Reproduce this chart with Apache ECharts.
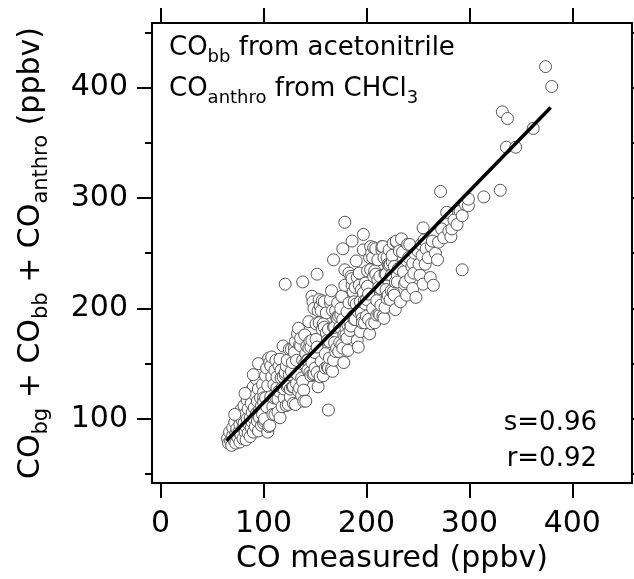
<!DOCTYPE html>
<html>
<head>
<meta charset="utf-8">
<script src="https://cdn.jsdelivr.net/npm/echarts@6/dist/echarts.min.js"></script>
<style>
html,body{margin:0;padding:0;background:#fff;}
#chart{width:634px;height:579px;}
</style>
</head>
<body>
<div id="chart"></div>
<script>
// ---- data ----
const xRange = [-8.4, 458];
const yRange = [41.8, 458.5];
const xTickValues = [0, 100, 200, 300, 400];
const yTickValues = [100, 200, 300, 400];
const yMinorTickValues = [50, 150, 250, 350, 450];
const fitLine = [[64, 80.2], [379, 382]];
const statLabels = ['s=0.96', 'r=0.92'];
// [CO measured, CObg + CObb + COanthro] (ppbv)
const scatterPoints = [
  [65,82],[66,78],[67,88],[68,80],[69,76],[70,85],[70,92],[71,81],[72,97],[73,87],[73,78],[74,91],
  [75,83],[75,102],[76,88],[77,95],[77,79],[78,108],[78,86],[79,99],[80,92],[80,82],[81,112],[81,96],
  [82,88],[82,104],[83,93],[83,81],[84,117],[84,100],[85,87],[85,109],[86,95],[86,124],[87,101],
  [87,84],[88,114],[88,92],[89,106],[89,97],[90,129],[90,88],[91,110],[91,100],[92,121],[92,93],
  [93,105],[93,136],[94,98],[94,116],[95,89],[95,127],[96,108],[96,101],[97,143],[97,119],[98,94],
  [98,112],[99,131],[99,104],[100,124],[100,96],[72,104],[82,123],[90,140],[95,150],
  [100,119],[100,115],[101,98],[101,100],[102,139],[102,119],[103,111],[103,146],[104,130],[104,88],
  [105,93],[105,155],[106,151],[106,94],[107,120],[107,148],[108,138],[108,156],[109,111],[109,104],
  [110,131],[110,119],[111,104],[111,144],[112,153],[112,119],[113,128],[113,138],[114,118],[114,106],
  [115,148],[115,125],[116,101],[116,154],[117,144],[117,137],[118,128],[118,111],[119,166],[119,138],
  [120,119],[120,127],[121,140],[121,142],[121,222],[122,112],[122,148],[123,153],[123,129],[124,130],
  [124,113],[125,163],[125,140],[126,120],[126,127],[127,143],[127,163],[128,151],[128,129],[129,129],
  [129,114],[130,164],[130,160],
  [131,113],[131,170],[132,153],[132,132],[133,140],[133,177],[134,182],[134,125],[135,128],[135,167],
  [136,166],[136,173],[137,137],[137,121],[138,153],[138,134],[138,224],[139,126],[139,116],[140,176],
  [140,150],[141,116],[141,159],[142,166],[142,153],[143,153],[143,144],[144,188],[144,164],[145,142],
  [145,170],[146,165],[146,139],[147,151],[147,171],[147,211],[148,206],[148,140],[149,141],[149,200],
  [150,160],[150,146],[151,172],[151,186],[152,165],[152,142],[152,231],[153,129],[153,198],[154,208],
  [154,187],[155,138],[155,202],[156,198],[156,152],[157,181],[157,207],[158,139],[158,186],[159,206],
  [159,183],[160,159],[160,146],[161,196],[161,178],[162,171],[162,147],[163,181],[163,146],[163,108],
  [164,155],[164,170],[165,205],[165,208],[166,145],[166,216],[167,198],[167,143],[168,153],[168,183],
  [168,244],[169,169],[169,183],[170,198],[170,161],[171,164],[171,192],[172,205],[172,191],[173,161],
  [173,193],[174,169],[174,183],[175,194],[175,200],[176,167],[176,211],[177,190],[177,164],[177,254],
  [178,151],[178,176],[179,221],[179,235],[179,278],[180,182],[180,176],[181,197],[181,173],[182,185],
  [182,162],[183,232],[183,205],[184,180],[184,187],[185,229],[185,184],[186,221],[186,227],[186,261],
  [187,193],[187,215],[188,206],[188,190],[189,190],[189,219],[190,204],[190,243],[191,228],[191,171],
  [192,197],[192,165],[193,221],[193,232],[194,179],[194,206],[195,217],[195,196],[196,191],[196,187],
  [197,253],[197,214],[197,267],[198,187],[198,207],[199,223],[199,204],[200,208],[200,193],
  [201,220],[201,234],[202,213],[202,190],[203,177],[203,246],[204,256],[204,235],[205,186],[205,250],
  [206,246],[206,200],[207,229],[207,255],[208,187],[208,234],[209,254],[209,231],[210,207],[210,194],
  [211,244],[211,226],[212,219],[212,195],[213,229],[213,194],[214,203],[214,218],[215,253],[215,256],
  [216,193],[216,256],[217,246],[217,191],[218,201],[218,231],[219,217],[219,231],[220,246],[220,209],
  [221,212],[221,240],[222,253],[222,239],[223,208],[223,240],[224,216],[224,230],[225,242],[225,248],
  [226,215],[226,259],[227,238],[227,212],[228,199],[228,224],[229,260],[229,261],[230,230],[230,224],
  [231,236],[232,252],[233,206],[234,263],[235,251],[236,233],[237,222],[238,224],[239,212],[240,258],
  [241,246],[242,258],[243,228],[244,238],[245,218],[245,241],[246,232],[247,250],[248,210],[250,252],
  [251,240],[252,230],[253,258],[254,248],[255,273],[255,222],[256,262],[257,240],[258,254],[260,246],
  [262,228],[263,256],[264,261],[265,221],[267,250],[269,244],[270,260],[272,306],[273,272],[275,264],
  [278,287],[280,270],[282,265],[283,272],[285,280],[288,276],[291,288],[293,284],[293,235],[296,294],
  [299,293],[299,299],
  [314,301],[330,307],[332,378],[337,372],[336,346],[345,346],[362,363],[374,419],[380,401]
];

const FONT = 'DejaVu Sans';
const chart = echarts.init(document.getElementById('chart'), null, {renderer: 'canvas'});

const axisLineStyle = {show: true, onZero: false, lineStyle: {color: '#000', width: 2}};
const annoRich = {
  n: {fontSize: 26, fontFamily: FONT, fill: '#000', lineHeight: 26, verticalAlign: 'top'},
  s: {fontSize: 18, fontFamily: FONT, fill: '#000', lineHeight: 31, verticalAlign: 'bottom'}
};

const option = {
  animation: false,
  backgroundColor: '#fff',
  grid: {left: 152, right: 2, top: 23, bottom: 93, containLabel: false},
  xAxis: [
    {
      type: 'value', position: 'bottom', min: xRange[0], max: xRange[1],
      axisLine: axisLineStyle,
      axisTick: {show: true, inside: false, length: 15, lineStyle: {color: '#000', width: 2}, customValues: xTickValues},
      axisLabel: {show: true, customValues: xTickValues, fontSize: 30, fontFamily: FONT, color: '#000', margin: 26},
      splitLine: {show: false},
      name: 'CO measured (ppbv)', nameLocation: 'middle', nameGap: 58,
      nameTextStyle: {fontSize: 30, fontFamily: FONT, color: '#000'}
    },
    {
      type: 'value', position: 'top', min: xRange[0], max: xRange[1],
      axisLine: axisLineStyle,
      axisTick: {show: true, inside: false, length: 15, lineStyle: {color: '#000', width: 2}, customValues: xTickValues},
      axisLabel: {show: false},
      splitLine: {show: false}
    }
  ],
  yAxis: [
    {
      type: 'value', position: 'left', min: yRange[0], max: yRange[1],
      axisLine: axisLineStyle,
      axisTick: {show: true, inside: false, length: 15, lineStyle: {color: '#000', width: 2}, customValues: yTickValues},
      axisLabel: {show: true, customValues: yTickValues, fontSize: 30, fontFamily: FONT, color: '#000', margin: 24},
      splitLine: {show: false},
      name: '{n|CO}{s|bg}{n| + CO}{s|bb}{n| + CO}{s|anthro}{n| (ppbv)}',
      nameLocation: 'middle', nameRotate: 90, nameGap: 100,
      nameTextStyle: {
        fontSize: 30, fontFamily: FONT, color: '#000',
        rich: {
          n: {fontSize: 30, fontFamily: FONT, color: '#000', lineHeight: 30, verticalAlign: 'top'},
          s: {fontSize: 21, fontFamily: FONT, color: '#000', lineHeight: 36, verticalAlign: 'bottom'}
        }
      }
    },
    {
      type: 'value', position: 'left', min: yRange[0], max: yRange[1],
      axisLine: {show: false, onZero: false},
      axisTick: {show: true, inside: false, length: 7, lineStyle: {color: '#000', width: 2}, customValues: yMinorTickValues},
      axisLabel: {show: false},
      splitLine: {show: false}
    },
    {
      type: 'value', position: 'right', min: yRange[0], max: yRange[1],
      axisLine: axisLineStyle,
      axisTick: {show: true, inside: false, length: 15, lineStyle: {color: '#000', width: 2}, customValues: yTickValues},
      axisLabel: {show: false},
      splitLine: {show: false}
    },
    {
      type: 'value', position: 'right', min: yRange[0], max: yRange[1],
      axisLine: {show: false, onZero: false},
      axisTick: {show: true, inside: false, length: 7, lineStyle: {color: '#000', width: 2}, customValues: yMinorTickValues},
      axisLabel: {show: false},
      splitLine: {show: false}
    }
  ],
  series: [
    {
      type: 'scatter', xAxisIndex: 0, yAxisIndex: 0,
      data: scatterPoints, symbol: 'circle', symbolSize: 12,
      itemStyle: {color: '#fff', borderColor: '#555', borderWidth: 1, opacity: 1},
      z: 2
    },
    {
      type: 'line', xAxisIndex: 0, yAxisIndex: 0,
      data: fitLine, showSymbol: false, symbol: 'none',
      lineStyle: {color: '#000', width: 3.5}, z: 3
    }
  ],
  graphic: [
    {
      type: 'text', left: 169, top: 35, z: 10,
      style: {text: '{n|CO}{s|bb}{n| from acetonitrile}', rich: annoRich}
    },
    {
      type: 'text', left: 169, top: 76, z: 10,
      style: {text: '{n|CO}{s|anthro}{n| from CHCl}{s|3}', rich: annoRich}
    },
    {
      type: 'text', right: 37, top: 410, z: 10,
      style: {text: statLabels[0], fontSize: 26, fontFamily: FONT, fill: '#000'}
    },
    {
      type: 'text', right: 37, top: 446, z: 10,
      style: {text: statLabels[1], fontSize: 26, fontFamily: FONT, fill: '#000'}
    }
  ]
};
chart.setOption(option);
</script>
</body>
</html>
